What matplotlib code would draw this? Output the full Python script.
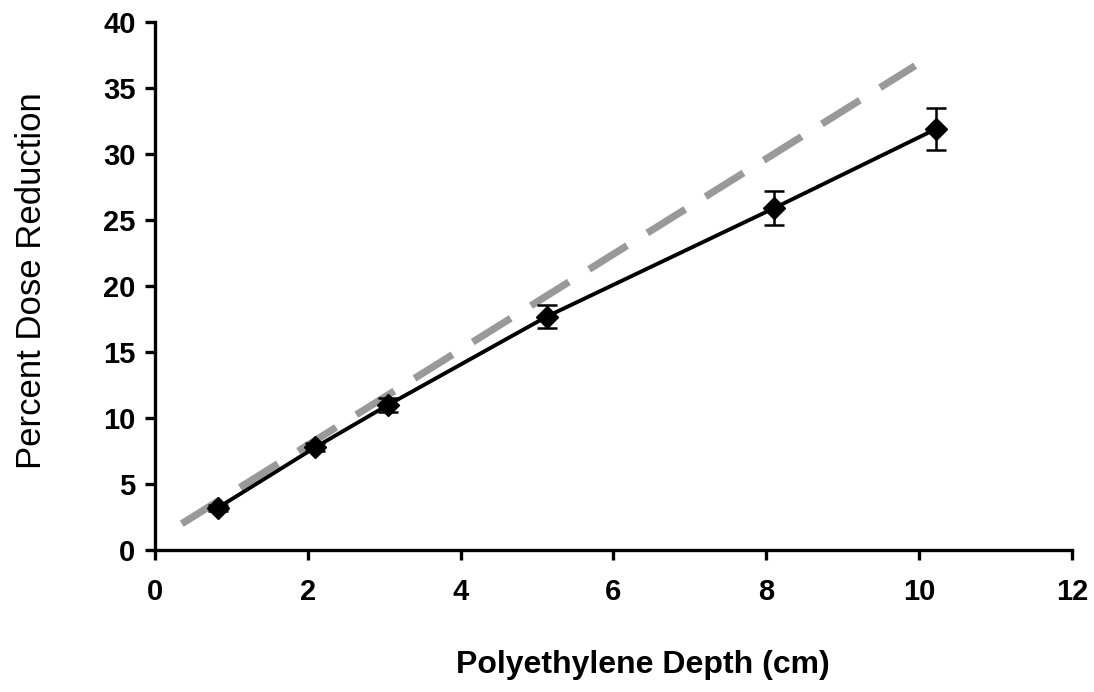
import matplotlib
matplotlib.use("Agg")
import matplotlib.pyplot as plt

plt.rcParams['font.family'] = ['Liberation Sans', 'DejaVu Sans']

depth = [0.82, 2.1, 3.05, 5.13, 8.1, 10.22]
reduction = [3.2, 7.8, 11.0, 17.7, 25.9, 31.9]
errors = [0.2, 0.3, 0.5, 0.9, 1.3, 1.6]

dash_x = [0.35, 9.95]
dash_y = [2.0, 36.7]

xticks = [0, 2, 4, 6, 8, 10, 12]
yticks = [0, 5, 10, 15, 20, 25, 30, 35, 40]

fig = plt.figure(figsize=(10.94, 6.92), dpi=100)
ax = fig.add_axes([0.1417, 0.205, 0.838, 0.763])

ax.plot(dash_x, dash_y, color='#999999', lw=5.2, dashes=(6.2, 3.3), solid_capstyle='butt', dash_capstyle='butt', zorder=2)
ax.errorbar(depth, reduction, yerr=errors, color='black', lw=2.8, marker='D', markersize=11,
            ecolor='black', elinewidth=1.8, capsize=7, capthick=1.8, zorder=3)

ax.set_xlim(0, 12)
ax.set_ylim(0, 40)
ax.set_xticks(xticks)
ax.set_yticks(yticks)
ax.set_xticklabels([str(v) for v in xticks], fontsize=21, fontweight='bold')
ax.set_yticklabels([str(v) for v in yticks], fontsize=21, fontweight='bold')
ax.tick_params(direction='out', length=7, width=2.4)
ax.tick_params(axis='x', pad=13)
ax.tick_params(axis='y', pad=7)
for s in ['top', 'right']:
    ax.spines[s].set_visible(False)
for s in ['left', 'bottom']:
    ax.spines[s].set_linewidth(2.4)

ax.set_xlabel('Polyethylene Depth (cm)', fontsize=23, fontweight='bold')
ax.set_ylabel('Percent Dose Reduction', fontsize=25)
ax.xaxis.set_label_coords(0.532, -0.19)
ax.yaxis.set_label_coords(-0.117, 0.51)

fig.savefig('out.png', dpi=100)
